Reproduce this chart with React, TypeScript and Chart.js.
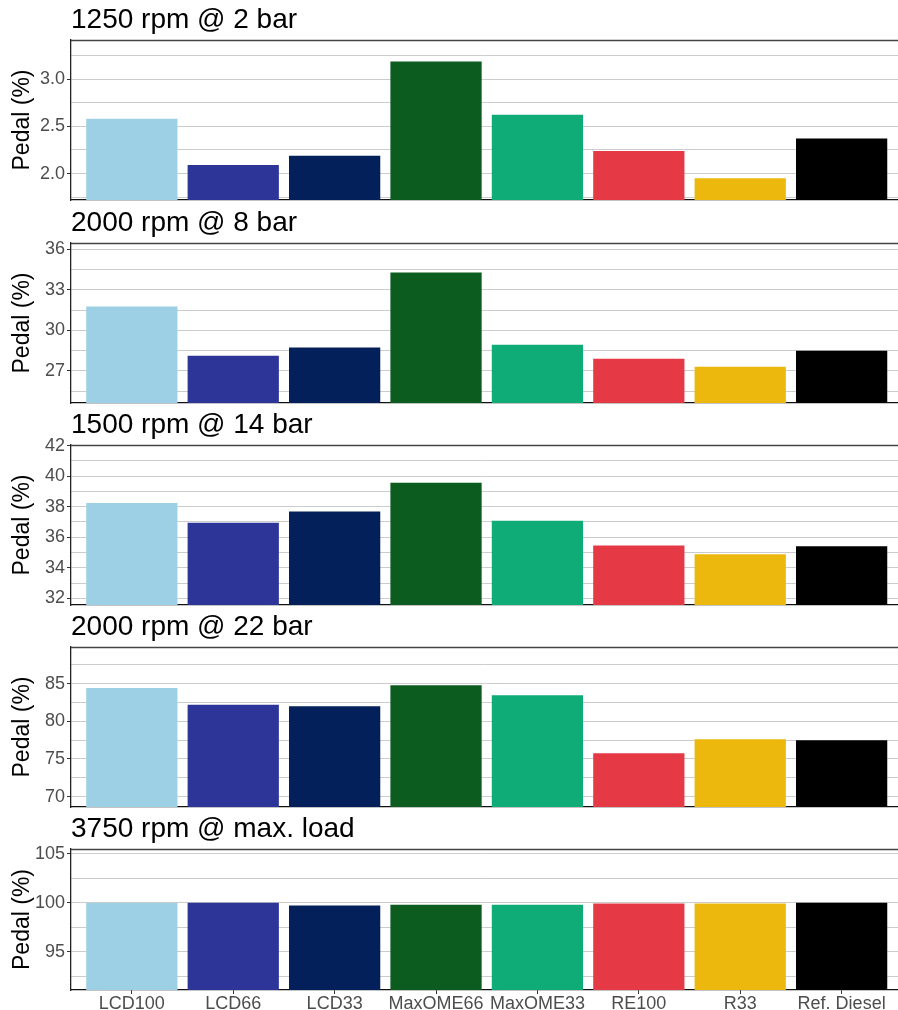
import React, { useEffect, useRef } from 'react';
import { Chart, registerables } from 'chart.js';

Chart.register(...registerables);
Chart.defaults.font.family = "'Liberation Sans', Arial, Helvetica, sans-serif";

// ---------- data ----------
const categories = ['LCD100', 'LCD66', 'LCD33', 'MaxOME66', 'MaxOME33', 'RE100', 'R33', 'Ref. Diesel'];
const barColors = ['#9ED0E5', '#2D3599', '#03205A', '#0C5C1F', '#10AC77', '#E63946', '#EDB80E', '#000000'];

const panelTitles = ['1250 rpm @ 2 bar', '2000 rpm @ 8 bar', '1500 rpm @ 14 bar', '2000 rpm @ 22 bar', '3750 rpm @ max. load'];

const pedal1250rpm2bar = [2.58, 2.09, 2.19, 3.186, 2.622, 2.24, 1.951, 2.371];
const pedal2000rpm8bar = [31.76, 28.12, 28.73, 34.29, 28.94, 27.9, 27.3, 28.49];
const pedal1500rpm14bar = [38.24, 36.94, 37.69, 39.56, 37.08, 35.46, 34.88, 35.4];
const pedal2000rpm22bar = [84.42, 82.2, 81.99, 84.77, 83.45, 75.76, 77.6, 77.47];
const pedal3750rpmMax = [99.98, 100.0, 99.72, 99.8, 99.8, 99.93, 99.93, 100.0];

const yMins = [1.72, 24.62, 31.56, 68.62, 91.07];
const yMaxs = [3.415, 36.47, 42.04, 89.85, 105.5];

// discrete x axis range (category index units, with ggplot-style expansion)
const xMin = -0.6;
const xMax = 7.556;

const majorTickLabels1 = ['2.0', '2.5', '3.0'];
const majorTickLabels2 = ['27', '30', '33', '36'];
const majorTickLabels3 = ['32', '34', '36', '38', '40', '42'];
const majorTickLabels4 = ['70', '75', '80', '85'];
const majorTickLabels5 = ['95', '100', '105'];

const minorTicks1 = [1.75, 2.25, 2.75, 3.25];
const minorTicks2 = [25.5, 28.5, 31.5, 34.5];
const minorTicks3 = [33, 35, 37, 39, 41];
const minorTicks4 = [72.5, 77.5, 82.5, 87.5];
const minorTicks5 = [92.5, 97.5, 102.5];

const panelValues = [pedal1250rpm2bar, pedal2000rpm8bar, pedal1500rpm14bar, pedal2000rpm22bar, pedal3750rpmMax];
const panelMajors = [majorTickLabels1, majorTickLabels2, majorTickLabels3, majorTickLabels4, majorTickLabels5];
const panelMinors = [minorTicks1, minorTicks2, minorTicks3, minorTicks4, minorTicks5];

// layout (pixels)
const W = 898;
const panelTops = [0, 203, 405, 607, 809];
const panelHeights = [202, 202, 202, 202, 201];

const topBorderPlugin = {
  id: 'topBorder',
  afterDraw(chart: any) {
    const { ctx, chartArea } = chart;
    ctx.save();
    ctx.strokeStyle = '#444444';
    ctx.lineWidth = 1.4;
    ctx.beginPath();
    ctx.moveTo(chartArea.left, chartArea.top + 0.5);
    ctx.lineTo(chartArea.right, chartArea.top + 0.5);
    ctx.stroke();
    ctx.restore();
  },
};

function Panel({ idx }: { idx: number }) {
  const ref = useRef<HTMLCanvasElement | null>(null);
  useEffect(() => {
    if (!ref.current) return;
    const showX = idx === 4;
    const majorLabels = panelMajors[idx];
    const majorVals = majorLabels.map((s) => parseFloat(s));
    const minorVals = panelMinors[idx];
    const allTicks = [...majorVals, ...minorVals].sort((a, b) => a - b);
    const isMajor = (v: number) => majorVals.some((m) => Math.abs(m - v) < 1e-9);
    const labelFor = (v: number) => {
      const i = majorVals.findIndex((m) => Math.abs(m - v) < 1e-9);
      return i >= 0 ? majorLabels[i] : '';
    };

    const chart = new Chart(ref.current, {
      type: 'bar',
      data: {
        datasets: [
          {
            data: panelValues[idx].map((v, i) => ({ x: i, y: v })),
            backgroundColor: barColors,
            borderWidth: 0,
            barPercentage: 0.9,
            categoryPercentage: 1.0,
          },
        ],
      },
      options: {
        responsive: false,
        animation: false,
        devicePixelRatio: 1,
        layout: { padding: { left: 0, right: 0, top: 0, bottom: showX ? 0 : 2 } },
        plugins: {
          legend: { display: false },
          tooltip: { enabled: false },
          title: {
            display: true,
            text: panelTitles[idx],
            align: 'start',
            fullSize: false,
            color: '#000000',
            font: { size: 28, weight: 'normal', lineHeight: 1.2 },
            padding: { top: 3, bottom: 3.4 },
          },
        },
        scales: {
          x: {
            type: 'linear',
            min: xMin,
            max: xMax,
            offset: false,
            bounds: 'data',
            afterFit: (scale: any) => {
              scale.height = showX ? 20 : 0;
              scale.paddingLeft = 0;
              scale.paddingRight = 0;
            },
            afterBuildTicks: (scale: any) => {
              scale.ticks = categories.map((_, i) => ({ value: i }));
            },
            grid: {
              display: showX,
              offset: false,
              drawOnChartArea: false,
              drawTicks: showX,
              tickLength: 4,
              tickColor: '#333333',
            },
            border: { display: true, color: '#111111', width: 1.3 },
            ticks: {
              display: showX,
              color: '#4D4D4D',
              font: { size: 18, lineHeight: 1 },
              padding: 1,
              maxRotation: 0,
              autoSkip: false,
              callback: (v: any) => categories[Math.round(Number(v))] ?? '',
            },
          },
          y: {
            type: 'linear',
            min: yMins[idx],
            max: yMaxs[idx],
            bounds: 'data',
            afterFit: (scale: any) => {
              scale.width = 71;
              scale.paddingTop = 0;
              scale.paddingBottom = 0;
            },
            afterBuildTicks: (scale: any) => {
              scale.ticks = allTicks.map((v) => ({ value: v }));
            },
            grid: {
              color: '#CCCCCC',
              lineWidth: 1,
              drawTicks: true,
              tickLength: 4,
              tickColor: (ctx: any) => (ctx.tick && isMajor(ctx.tick.value) ? '#333333' : 'rgba(0,0,0,0)'),
            },
            border: { display: true, color: '#222222', width: 1.3 },
            ticks: {
              autoSkip: false,
              color: '#4D4D4D',
              font: { size: 18 },
              padding: 2,
              callback: (v: any) => labelFor(Number(v)),
            },
            title: {
              display: true,
              text: 'Pedal (%)',
              color: '#000000',
              font: { size: 23 },
              padding: { top: 9, bottom: 0 },
            },
          },
        },
      },
      plugins: [topBorderPlugin],
    } as any);
    return () => chart.destroy();
  }, [idx]);

  return (
    <canvas
      ref={ref}
      width={W}
      height={panelHeights[idx]}
      style={{ position: 'absolute', left: 0, top: panelTops[idx], width: W, height: panelHeights[idx] }}
    />
  );
}

export default function App() {
  return (
    <div style={{ position: 'absolute', left: 0, top: 0, width: W, height: 1010, background: '#ffffff' }}>
      {[0, 1, 2, 3, 4].map((i) => (
        <Panel key={i} idx={i} />
      ))}
    </div>
  );
}
